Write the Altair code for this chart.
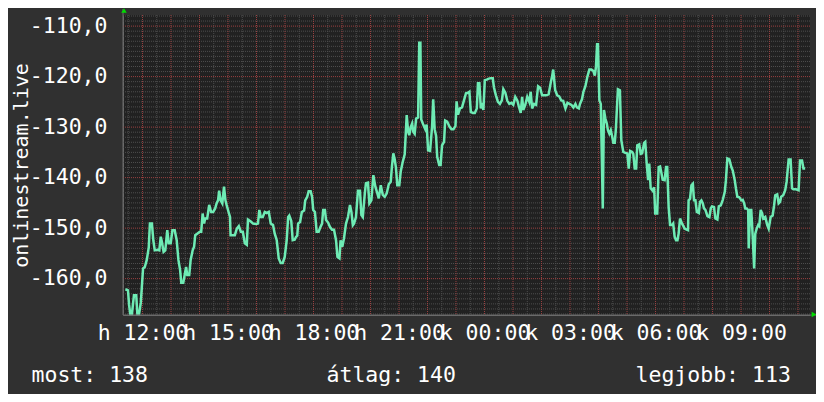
import json
import altair as alt
import numpy as np
import pandas as pd

# ---------------- data ----------------
hours = [
    11.40, 11.49, 11.53, 11.57, 11.63, 11.70, 11.78, 11.82, 11.88, 11.94,
    12.02, 12.08, 12.15, 12.22, 12.26, 12.33, 12.38, 12.43, 12.52, 12.59,
    12.64, 12.68, 12.74, 12.80, 12.87, 12.92, 12.99, 13.05, 13.13, 13.20,
    13.26, 13.32, 13.36, 13.43, 13.48, 13.53, 13.57, 13.64, 13.69, 13.76,
    13.81, 13.85, 13.92, 14.01, 14.06, 14.11, 14.16, 14.20, 14.27, 14.34,
    14.41, 14.48, 14.55, 14.60, 14.65, 14.69, 14.74, 14.80, 14.86, 14.91,
    14.95, 15.02, 15.07, 15.09, 15.16, 15.24, 15.31, 15.38, 15.45, 15.52,
    15.59, 15.66, 15.70, 15.80, 15.88, 15.99, 16.05, 16.10, 16.15, 16.22,
    16.29, 16.36, 16.43, 16.50, 16.58, 16.64, 16.71, 16.78, 16.85, 16.92,
    16.99, 17.06, 17.11, 17.15, 17.22, 17.27, 17.34, 17.39, 17.43, 17.46,
    17.53, 17.59, 17.67, 17.71, 17.78, 17.83, 17.90, 17.95, 17.99, 18.05,
    18.11, 18.18, 18.25, 18.30, 18.34, 18.40, 18.44, 18.51, 18.58, 18.65,
    18.72, 18.79, 18.84, 18.91, 18.95, 19.01, 19.07, 19.14, 19.21, 19.28,
    19.33, 19.38, 19.42, 19.49, 19.56, 19.63, 19.68, 19.73, 19.80, 19.84,
    19.91, 19.96, 20.03, 20.10, 20.17, 20.24, 20.29, 20.36, 20.43, 20.50,
    20.57, 20.64, 20.71, 20.75, 20.80, 20.85, 20.89, 20.94, 21.01, 21.06,
    21.13, 21.20, 21.27, 21.32, 21.36, 21.41, 21.46, 21.50, 21.55, 21.60,
    21.67, 21.71, 21.75, 21.78, 21.85, 21.92, 21.97, 22.02, 22.09, 22.16,
    22.20, 22.25, 22.30, 22.34, 22.41, 22.46, 22.51, 22.58, 22.62, 22.69,
    22.77, 22.84, 22.91, 22.98, 23.02, 23.07, 23.14, 23.21, 23.28, 23.35,
    23.42, 23.47, 23.52, 23.59, 23.66, 23.73, 23.77, 23.82, 23.87, 23.91,
    23.96, 24.01, 24.08, 24.15, 24.22, 24.29, 24.33, 24.40, 24.47, 24.54,
    24.61, 24.66, 24.73, 24.80, 24.87, 24.94, 25.01, 25.08, 25.15, 25.20,
    25.27, 25.32, 25.36, 25.43, 25.50, 25.57, 25.62, 25.67, 25.74, 25.81,
    25.88, 25.95, 26.02, 26.09, 26.16, 26.25, 26.32, 26.37, 26.41, 26.48,
    26.55, 26.62, 26.69, 26.76, 26.84, 26.91, 26.98, 27.05, 27.12, 27.19,
    27.24, 27.31, 27.35, 27.42, 27.47, 27.54, 27.61, 27.68, 27.75, 27.82,
    27.87, 27.91, 27.95, 27.98, 28.03, 28.08, 28.15, 28.19, 28.24, 28.29,
    28.33, 28.38, 28.43, 28.47, 28.52, 28.57, 28.61, 28.68, 28.75, 28.80,
    28.87, 28.94, 29.01, 29.06, 29.11, 29.18, 29.22, 29.27, 29.32, 29.36,
    29.43, 29.48, 29.53, 29.60, 29.64, 29.69, 29.74, 29.78, 29.83, 29.90,
    29.95, 29.99, 30.06, 30.11, 30.16, 30.20, 30.25, 30.32, 30.37, 30.41,
    30.46, 30.51, 30.58, 30.62, 30.67, 30.72, 30.77, 30.81, 30.86, 30.93,
    30.98, 31.02, 31.09, 31.14, 31.16, 31.21, 31.26, 31.31, 31.35, 31.40,
    31.45, 31.52, 31.56, 31.61, 31.66, 31.70, 31.75, 31.82, 31.89, 31.94,
    31.98, 32.05, 32.10, 32.17, 32.22, 32.29, 32.36, 32.43, 32.47, 32.52,
    32.59, 32.66, 32.71, 32.78, 32.82, 32.87, 32.94, 33.01, 33.06, 33.11,
    33.15, 33.20, 33.25, 33.27, 33.32, 33.36, 33.41, 33.46, 33.50, 33.55,
    33.60, 33.64, 33.69, 33.74, 33.78, 33.85, 33.92, 33.97, 34.04, 34.11,
    34.16, 34.20, 34.27, 34.32, 34.37, 34.41, 34.48, 34.55, 34.60, 34.67,
    34.74, 34.79, 34.84, 34.93, 35.02, 35.07, 35.14, 35.19, 35.25,
]

values = [
    -162.1, -162.3, -165.2, -167.0, -167.0, -163.3, -163.3, -167.0, -167.0, -164.8,
    -158.0, -157.7, -156.3, -153.8, -149.1, -149.1, -152.4, -154.4, -154.3, -154.4,
    -151.7, -152.7, -154.7, -154.4, -150.4, -153.0, -153.0, -150.4, -150.4, -152.4,
    -156.3, -158.3, -160.8, -160.8, -159.3, -157.7, -159.3, -159.3, -156.3, -154.4,
    -153.7, -151.4, -151.1, -150.7, -150.7, -147.1, -149.1, -148.1, -148.1, -145.4,
    -146.8, -146.8, -146.1, -145.1, -144.5, -142.6, -144.5, -145.1, -141.8, -144.5,
    -145.4, -146.8, -147.8, -151.4, -151.4, -151.4, -150.1, -149.6, -150.7, -150.7,
    -153.0, -153.3, -148.3, -148.7, -149.1, -149.2, -149.1, -146.4, -147.8, -147.8,
    -146.8, -147.0, -146.8, -149.1, -149.4, -151.1, -152.4, -156.0, -156.9, -156.9,
    -155.7, -152.4, -147.8, -147.5, -148.6, -152.4, -152.3, -151.7, -151.5, -149.1,
    -148.8, -146.8, -146.5, -144.5, -143.8, -142.7, -142.7, -143.8, -146.4, -146.8,
    -150.7, -150.7, -149.7, -149.1, -146.4, -146.4, -148.4, -148.9, -149.8, -150.3,
    -150.3, -152.4, -155.7, -156.0, -152.4, -153.7, -152.0, -149.1, -147.8, -145.4,
    -146.8, -149.4, -149.1, -147.8, -142.6, -142.6, -147.4, -147.8, -143.1, -141.1,
    -141.0, -145.1, -144.5, -139.5, -141.8, -143.1, -144.1, -141.5, -143.4, -143.8,
    -143.1, -141.3, -140.8, -137.9, -135.2, -136.4, -137.9, -141.5, -141.5, -138.8,
    -136.9, -135.4, -127.6, -130.9, -131.6, -130.0, -129.3, -130.9, -131.3, -128.3,
    -128.1, -113.3, -113.3, -128.5, -129.5, -130.4, -129.5, -134.6, -134.7, -129.9,
    -124.5, -130.4, -131.7, -135.9, -137.5, -137.5, -133.6, -132.9, -128.7, -128.9,
    -129.9, -130.4, -130.4, -129.8, -124.9, -127.5, -126.3, -126.1, -124.7, -123.3,
    -123.2, -123.0, -127.0, -127.2, -127.2, -126.3, -121.3, -121.3, -126.3, -125.2,
    -126.6, -120.7, -120.6, -120.4, -120.3, -120.3, -122.1, -123.7, -125.0, -125.4,
    -124.7, -122.5, -123.2, -124.8, -125.4, -125.2, -125.6, -124.0, -124.7, -125.8,
    -127.2, -124.0, -126.6, -125.6, -124.0, -125.0, -123.0, -126.3, -125.4, -125.6,
    -121.9, -122.2, -123.7, -123.7, -123.7, -123.5, -121.3, -120.0, -118.6, -122.7,
    -123.7, -123.9, -124.7, -124.8, -126.3, -125.2, -125.4, -125.6, -126.1, -125.4,
    -126.1, -126.3, -125.4, -124.5, -123.0, -121.9, -120.0, -118.6, -118.6, -118.9,
    -119.8, -118.1, -113.6, -113.6, -124.7, -125.4, -146.1, -126.6, -128.3, -129.3,
    -130.6, -131.3, -130.6, -131.6, -133.1, -133.1, -130.3, -122.5, -122.7, -132.6,
    -134.9, -135.1, -135.2, -138.2, -134.7, -134.9, -135.3, -138.2, -138.2, -133.6,
    -133.4, -135.3, -135.2, -133.1, -132.9, -137.2, -140.5, -137.2, -142.1, -142.6,
    -141.9, -147.1, -147.1, -137.9, -137.8, -138.9, -140.4, -140.5, -137.9, -137.9,
    -145.8, -149.4, -149.4, -149.1, -151.7, -152.4, -152.4, -151.1, -148.1, -149.1,
    -149.6, -150.1, -150.3, -150.4, -144.5, -144.2, -141.5, -141.2, -144.5, -144.5,
    -146.8, -147.0, -144.8, -144.5, -145.1, -146.1, -146.4, -147.6, -147.8, -146.1,
    -145.7, -145.8, -148.1, -148.3, -145.7, -145.5, -144.4, -142.8, -140.5, -136.2,
    -136.4, -137.9, -138.6, -140.5, -142.1, -143.8, -143.9, -144.5, -144.4, -145.1,
    -146.1, -146.1, -146.4, -154.0, -146.4, -146.4, -151.7, -158.0, -151.1, -150.1,
    -149.4, -149.6, -146.4, -147.1, -148.1, -147.8, -149.4, -150.1, -147.8, -147.5,
    -145.5, -143.5, -143.3, -145.1, -144.8, -143.8, -143.5, -142.5, -140.8, -136.4,
    -136.4, -142.1, -142.3, -142.3, -142.5, -136.6, -136.6, -138.2, -138.2,
]

x_tick_values = [12, 15, 18, 21, 24, 27, 30, 33]
x_tick_labels = ["h 12:00", "h 15:00", "h 18:00", "h 21:00",
                 "k 00:00", "k 03:00", "k 06:00", "k 09:00"]
y_tick_values = [-160, -150, -140, -130, -120, -110]
y_tick_labels = ["-160,0", "-150,0", "-140,0", "-130,0", "-120,0", "-110,0"]
y_title = "onlinestream.live"
legend_labels = ["most", "átlag", "legjobb"]
legend_values = [138, 140, 113]

# ---------------- styling / layout ----------------
FONT = "DejaVu Sans Mono"
FS = 21.5
TITLE_FS = 20
BG = "#303030"
CANVAS = "#212121"
LINE_COLOR = "#6eebb4"
MINOR = "#4e4e4e"
MAJOR = "#9a4040"
AXIS_COLOR = "#6a6a6a"
ARROW = "#00dd00"
W, H = 687, 300

X_DOMAIN = [11.316, 35.42]
Y_DOMAIN = [-167.2, -107.8]
xs = alt.Scale(domain=X_DOMAIN, nice=False, zero=False)
ys = alt.Scale(domain=Y_DOMAIN, nice=False, zero=False)

x_expr = json.dumps(x_tick_labels) + "[round((datum.value-12)/3)]"
y_expr = json.dumps(y_tick_labels) + "[round((datum.value+160)/10)]"

X_AXIS = alt.Axis(
    values=x_tick_values, labelExpr=x_expr, ticks=False, grid=False,
    domainColor=AXIS_COLOR, labelFont=FONT, labelFontSize=FS,
    labelColor="#ffffff", labelPadding=7, labelOverlap=False,
    labelFlush=False, labelBound=False, title=None)
Y_AXIS = alt.Axis(
    values=y_tick_values, labelExpr=y_expr, ticks=False, grid=False,
    domainColor=AXIS_COLOR, labelFont=FONT, labelFontSize=FS,
    labelColor="#ffffff", labelPadding=16, labelOverlap=False,
    labelFlush=False, labelBound=False,
    title=y_title, titleFont=FONT, titleFontSize=TITLE_FS, titleColor="#ffffff",
    titleFontWeight="normal", titleX=-96, titleY=H / 2,
    titleAlign="center", titleBaseline="alphabetic", titleAngle=270)

df = pd.DataFrame({"t": hours, "v": values})

minor_x = [float(h) for h in np.arange(11.5, 35.5, 0.5) if h % 1 != 0]
major_x = [float(h) for h in range(12, 36)]
minor_y = [float(v) for v in range(-167, -107) if v % 10 != 0]
major_y = [float(v) for v in range(-160, -100, 10)]


def vrules(vals, color):
    return alt.Chart(pd.DataFrame({"t": vals})).mark_rule(
        color=color, strokeWidth=1, strokeDash=[1, 1]
    ).encode(x=alt.X("t:Q", scale=xs, axis=X_AXIS))


def hrules(vals, color):
    return alt.Chart(pd.DataFrame({"v": vals})).mark_rule(
        color=color, strokeWidth=1, strokeDash=[1, 1]
    ).encode(y=alt.Y("v:Q", scale=ys, axis=Y_AXIS))


line = alt.Chart(df).mark_line(
    color=LINE_COLOR, strokeWidth=2.5, interpolate="linear"
).encode(
    x=alt.X("t:Q", scale=xs, axis=X_AXIS),
    y=alt.Y("v:Q", scale=ys, axis=Y_AXIS),
)

one = pd.DataFrame({"a": [0]})
yaxis_ext = alt.Chart(one).mark_rule(color=AXIS_COLOR, strokeWidth=1).encode(
    x=alt.value(0), y=alt.value(-6), y2=alt.value(H))
xaxis_ext = alt.Chart(one).mark_rule(color=AXIS_COLOR, strokeWidth=1).encode(
    x=alt.value(0), x2=alt.value(W + 6), y=alt.value(H))
arrow_up = alt.Chart(one).mark_point(
    shape="triangle-up", filled=True, size=30, color=ARROW, opacity=1
).encode(x=alt.value(1), y=alt.value(-4.5))
arrow_right = alt.Chart(one).mark_point(
    shape="triangle-right", filled=True, size=30, color=ARROW, opacity=1
).encode(x=alt.value(W + 4), y=alt.value(H - 0.5))

LEGEND_X = [-91.5, 203.5, 512.5]
LEGEND_Y = 366.7
legend_layers = []
for lab, val, px in zip(legend_labels, legend_values, LEGEND_X):
    legend_layers.append(
        alt.Chart(pd.DataFrame({"txt": [f"{lab}: {val}"]})).mark_text(
            align="left", baseline="alphabetic", font=FONT, fontSize=FS,
            color="#ffffff"
        ).encode(x=alt.value(px), y=alt.value(LEGEND_Y), text="txt:N")
    )

chart = alt.layer(
    vrules(minor_x, MINOR),
    hrules(minor_y, MINOR),
    vrules(major_x, MAJOR),
    hrules(major_y, MAJOR),
    line,
    yaxis_ext,
    xaxis_ext,
    arrow_up,
    arrow_right,
    *legend_layers,
).properties(
    width=W,
    height=H,
    autosize=alt.AutoSizeParams(type="none"),
    padding={"left": 115, "top": 7, "right": 6, "bottom": 79},
    background=BG,
).configure_view(
    fill=CANVAS, strokeWidth=0
)

chart.save("out.html", embed_options={"renderer": "svg", "actions": False})
